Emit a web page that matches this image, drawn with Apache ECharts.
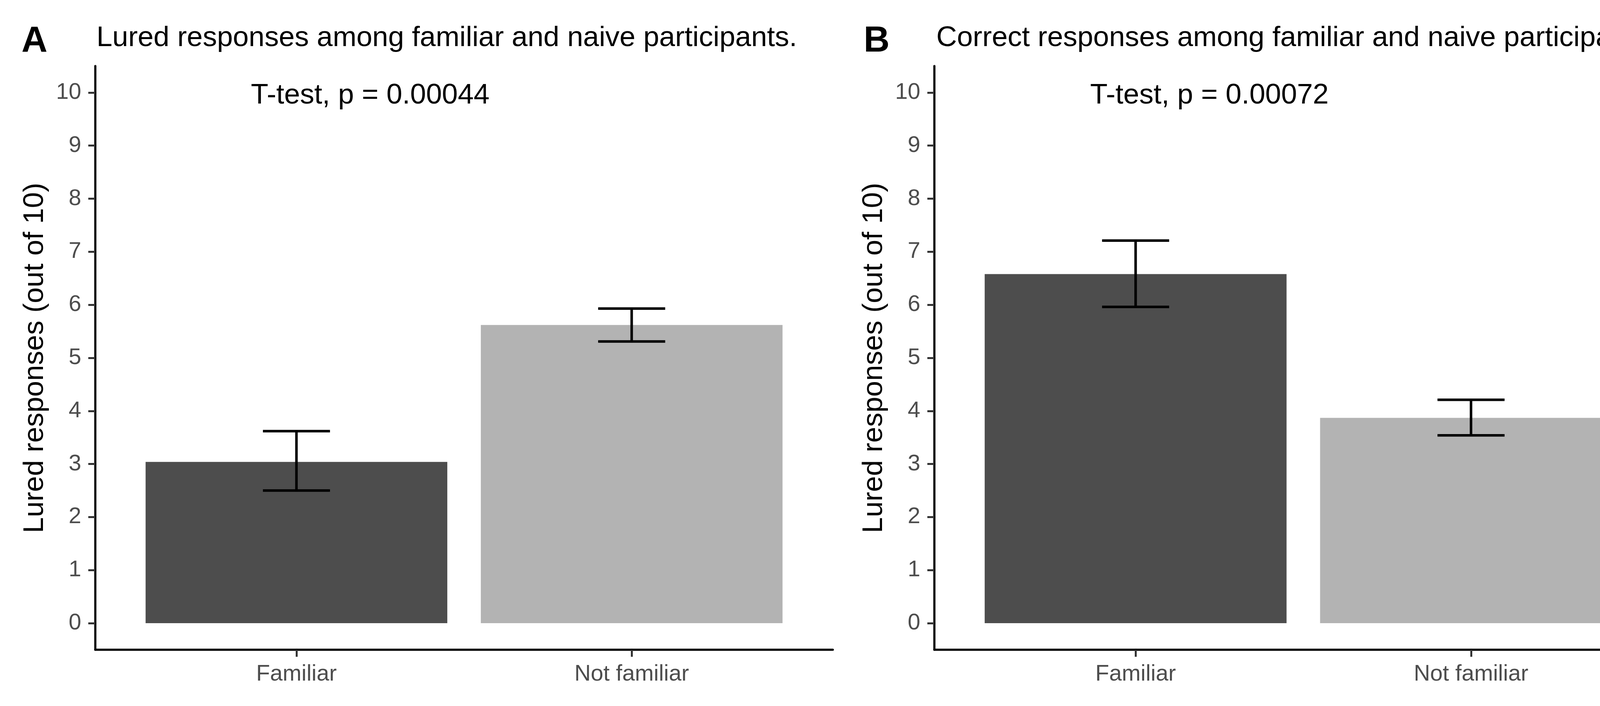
<!DOCTYPE html>
<html>
<head>
<meta charset="utf-8">
<script src="https://cdn.jsdelivr.net/npm/echarts@6/dist/echarts.min.js"></script>
<style>
html,body{margin:0;padding:0;background:#fff;}
#chart{width:4312px;height:1807px;}
</style>
</head>
<body>
<div id="chart"></div>
<script>
// ---- data ----
const categories = ['Familiar', 'Not familiar'];
const categoryPos = [1, 2];
const luredMean = [3.04, 5.62];
const luredLow = [2.50, 5.31];
const luredHigh = [3.62, 5.93];
const correctMean = [6.58, 3.87];
const correctLow = [5.96, 3.54];
const correctHigh = [7.21, 4.21];
const yTicks = [0, 1, 2, 3, 4, 5, 6, 7, 8, 9, 10];
const panelTags = ['A', 'B'];
const panelTitles = ['Lured responses among familiar and naive participants.',
                     'Correct responses among familiar and naive participants.'];
const testLabels = ['T-test, p = 0.00044', 'T-test, p = 0.00072'];
const yAxisTitle = 'Lured responses (out of 10)';
const barColors = ['#4d4d4d', '#b3b3b3'];

const FONT = 'Liberation Sans, Arial, Helvetica, sans-serif';
const chart = echarts.init(document.getElementById('chart'), null, {renderer: 'canvas'});

const grids = [
  {left: 244, top: 169, width: 1888, height: 1494},
  {left: 2392, top: 169, width: 1889, height: 1494}
];

function xAxisCfg(i) {
  return {
    type: 'value', gridIndex: i, min: 0.4, max: 2.6,
    axisLine: {show: true, onZero: false, lineStyle: {color: '#000', width: 5.5}},
    axisTick: {show: true, customValues: categoryPos, length: 18, lineStyle: {color: '#333', width: 5}},
    axisLabel: {show: true, customValues: categoryPos, margin: 34, fontFamily: FONT, fontSize: 58, color: '#4d4d4d',
      formatter: v => categories[categoryPos.indexOf(Math.round(v))] || ''},
    splitLine: {show: false}
  };
}
function yAxisCfg(i) {
  return {
    type: 'value', gridIndex: i, min: -0.5, max: 10.5,
    name: yAxisTitle, nameLocation: 'middle', nameRotate: 90, nameGap: 118,
    nameTextStyle: {fontFamily: FONT, fontSize: 73, color: '#000'},
    axisLine: {show: true, onZero: false, lineStyle: {color: '#000', width: 5.5}},
    axisTick: {show: true, customValues: yTicks, length: 18, lineStyle: {color: '#333', width: 5}},
    axisLabel: {show: true, customValues: yTicks, margin: 36, fontFamily: FONT, fontSize: 58, color: '#4d4d4d'},
    splitLine: {show: false}
  };
}

function barSeries(i, means) {
  return {
    type: 'custom', xAxisIndex: i, yAxisIndex: i,
    data: categoryPos.map((x, k) => [x, means[k]]),
    renderItem: function (params, api) {
      const x = api.value(0), y = api.value(1);
      const p0 = api.coord([x - 0.45, y]);
      const p1 = api.coord([x + 0.45, 0]);
      return {type: 'rect', shape: {x: p0[0], y: p0[1], width: p1[0] - p0[0], height: p1[1] - p0[1]},
        style: {fill: barColors[params.dataIndex]}};
    }
  };
}
function errSeries(i, lows, highs) {
  return {
    type: 'custom', xAxisIndex: i, yAxisIndex: i, z: 5,
    data: categoryPos.map((x, k) => [x, lows[k], highs[k]]),
    renderItem: function (params, api) {
      const x = api.value(0);
      const lo = api.coord([x, api.value(1)]);
      const hi = api.coord([x, api.value(2)]);
      const l = api.coord([x - 0.1, 0])[0];
      const r = api.coord([x + 0.1, 0])[0];
      const st = {stroke: '#000', lineWidth: 6.5, fill: null};
      return {type: 'group', children: [
        {type: 'line', shape: {x1: lo[0], y1: lo[1], x2: hi[0], y2: hi[1]}, style: st},
        {type: 'line', shape: {x1: l, y1: lo[1], x2: r, y2: lo[1]}, style: st},
        {type: 'line', shape: {x1: l, y1: hi[1], x2: r, y2: hi[1]}, style: st}
      ]};
    }
  };
}
function textSeries(i, label) {
  return {
    type: 'custom', xAxisIndex: i, yAxisIndex: i, z: 6,
    data: [[1.22, 10]],
    renderItem: function (params, api) {
      const p = api.coord([api.value(0), api.value(1)]);
      return {type: 'text', x: p[0], y: p[1] + 8,
        style: {text: label, fontFamily: FONT, fontSize: 73, fill: '#000', align: 'center', verticalAlign: 'middle'}};
    }
  };
}

const option = {
  backgroundColor: '#fff',
  animation: false,
  title: [
    {text: panelTags[0], left: 50, top: 56, textStyle: {fontFamily: FONT, fontSize: 92, fontWeight: 'bold', color: '#000'}},
    {text: panelTitles[0], left: 242, top: 56, textStyle: {fontFamily: FONT, fontSize: 73, fontWeight: 'normal', color: '#000'}},
    {text: panelTags[1], left: 2206, top: 56, textStyle: {fontFamily: FONT, fontSize: 92, fontWeight: 'bold', color: '#000'}},
    {text: panelTitles[1], left: 2392, top: 56, textStyle: {fontFamily: FONT, fontSize: 73, fontWeight: 'normal', color: '#000'}}
  ],
  grid: grids,
  xAxis: [xAxisCfg(0), xAxisCfg(1)],
  yAxis: [yAxisCfg(0), yAxisCfg(1)],
  series: [
    barSeries(0, luredMean), errSeries(0, luredLow, luredHigh), textSeries(0, testLabels[0]),
    barSeries(1, correctMean), errSeries(1, correctLow, correctHigh), textSeries(1, testLabels[1])
  ]
};
chart.setOption(option);
</script>
</body>
</html>
